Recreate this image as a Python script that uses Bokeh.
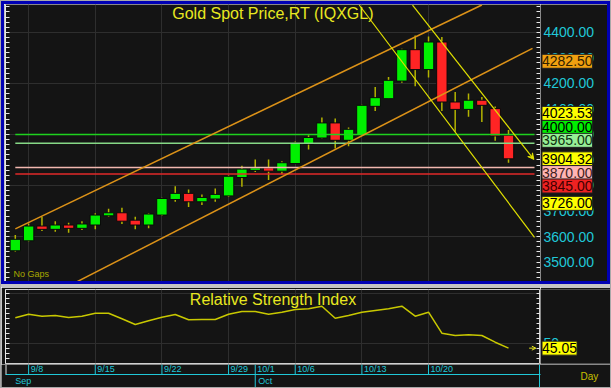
from bokeh.plotting import figure
from bokeh.layouts import column, row
from bokeh.models import (Range1d, LinearAxis, FixedTicker, Label, Arrow, VeeHead, OpenHead,
                          ColumnDataSource, Div)
from bokeh.core.properties import value
from bokeh.embed import file_html
from bokeh.resources import INLINE

# ---------------- data ----------------
dates = ["9/5", "9/8", "9/9", "9/10", "9/11", "9/12", "9/15", "9/16", "9/17", "9/18", "9/19",
         "9/22", "9/23", "9/24", "9/25", "9/26", "9/29", "9/30", "10/1", "10/2", "10/3",
         "10/6", "10/7", "10/8", "10/9", "10/10", "10/13", "10/14", "10/15", "10/16", "10/17",
         "10/20", "10/21", "10/22", "10/23", "10/24", "10/27", "10/28"]
opens = [3544, 3583, 3641, 3628, 3645, 3632, 3645, 3681, 3693, 3664, 3645,
         3684, 3745, 3769, 3736, 3747, 3759, 3831, 3859, 3869, 3856,
         3886, 3962, 3986, 4045, 3977, 3997, 4110, 4140, 4209, 4332,
         4254, 4362, 4127, 4098, 4134, 4101, 3997]
highs = [3606, 3651, 3677, 3660, 3654, 3660, 3691, 3709, 3713, 3677, 3691,
         3752, 3797, 3784, 3765, 3788, 3840, 3877, 3902, 3902, 3895,
         3972, 3997, 4066, 4062, 4027, 4116, 4186, 4225, 4336, 4388,
         4384, 4382, 4166, 4160, 4147, 4109, 4017]
lows = [3540, 3580, 3622, 3619, 3615, 3625, 3628, 3677, 3649, 3628, 3632,
        3680, 3736, 3716, 3723, 3736, 3755, 3795, 3853, 3821, 3844,
        3884, 3941, 3984, 3945, 3954, 3995, 4092, 4140, 4202, 4189,
        4223, 4092, 4010, 4069, 4049, 3975, 3889]
closes = [3589, 3641, 3628, 3645, 3632, 3649, 3684, 3693, 3660, 3645, 3688,
          3749, 3769, 3736, 3753, 3765, 3836, 3864, 3869, 3856, 3889,
          3967, 3988, 4045, 3977, 4020, 4114, 4144, 4212, 4332, 4254,
          4362, 4127, 4098, 4134, 4114, 3994, 3904.32]
rsi = [75.4, 79.0, 77.0, 77.7, 75.7, 77.0, 80.0, 80.0, 74.4, 68.7, 72.4,
       76.0, 78.7, 73.4, 73.7, 73.7, 79.0, 81.7, 81.7, 79.0, 81.0,
       83.7, 84.4, 87.0, 75.0, 77.7, 81.0, 82.7, 84.4, 87.0, 77.0,
       81.0, 60.0, 57.7, 58.4, 57.7, 51.0, 45.05]

date_tick_labels = ["9/8", "9/15", "9/22", "9/29", "10/1", "10/6", "10/13", "10/20"]
month_labels = ["Sep", "Oct"]
month_first_days = ["9/5", "10/1"]
week_starts = ["9/8", "9/15", "9/22", "9/29", "10/6", "10/13", "10/20"]

price_ticks = [3500, 3600, 3700, 3800, 3900, 4000, 4100, 4200, 4300, 4400]
price_grid = [3600, 3800, 4000, 4200, 4400]
rsi_ticks = [50]
rsi_grid = [50, 100]

levels = [4000.00, 3965.00, 3870.00, 3845.00]
level_colors = ["#1ED21E", "#86D886", "#F2B8B0", "#E02828"]

tag_values = [4282.50, 4023.53, 4000.00, 3965.00, 3904.32, 3870.00, 3845.00, 3726.00]
tag_fill = ["#F0A010", "#FFFF00", "#00EE00", "#96EE96", "#FFFF00", "#FFB4B4", "#EE2222", "#FFFF00"]
tag_text = ["#302000", "#000000", "#000000", "#103010", "#000000", "#402020", "#400000", "#000000"]
tag_shift = [1, 15, 7, 3, 0, -5, -12, 1]

channel_upper_x = [0.0, 35.0]
channel_upper_y = [3630, 4507]
channel_lower_x = [4.6, 38.8]
channel_lower_y = [3422, 4337]
trend_a_x = [25.8, 38.95]
trend_a_y = [4507, 3597]
trend_b_x = [29.8, 38.9]
trend_b_y = [4507, 3902]

rsi_last = 45.05

# ---------------- style ----------------
FONT = "Liberation Sans"
BG = "#141414"
GRID = "#2E2E2E"
CYAN = "#20C8D8"
WHITE = "#E6E6E6"
YEL = "#E8E820"
BLUE = "#0000B4"
SEP = "#C4C4C4"
OUTER = "#A8A8A8"
ORANGE = "#DC9218"

idx = list(range(len(dates)))
pos = {d: i for i, d in enumerate(dates)}
tick_idx = [pos[d] for d in date_tick_labels]
grid_idx = [pos[d] for d in week_starts]
month_idx = [pos[d] for d in month_first_days]

FRAME_W = 535
xr = Range1d(-0.735, 39.40)
PX = FRAME_W / (xr.end - xr.start)      # pixels per trading day
XMID = (xr.start + xr.end) / 2


def bar(w, h, color):
    return Div(text="", width=w, height=h, margin=0,
               styles={"background-color": color, "padding": "0px"})


def tick_axis(ax, minor):
    ax.ticker = FixedTicker(ticks=[], minor_ticks=minor)
    ax.axis_line_color = WHITE
    ax.minor_tick_line_color = WHITE
    ax.minor_tick_in = 4
    ax.minor_tick_out = 0
    ax.major_tick_in = 0
    ax.major_tick_out = 0


def base_fig(w, h, x_range, y_range, **kw):
    f = figure(width=w, height=h, x_range=x_range, y_range=y_range,
               output_backend="svg", toolbar_location=None,
               background_fill_color=BG, border_fill_color=BG, **kw)
    return f


# ---------------- main price panel ----------------
yr = Range1d(3423.7, 4509)
p = base_fig(536, 277, xr, yr, x_axis_location=None, y_axis_location="right",
             min_border_left=1, min_border_right=0, min_border_top=0, min_border_bottom=0,
             outline_line_color=None)
minor_p = list(range(3440, 4510, 20))
tick_axis(p.yaxis[0], minor_p)
la = LinearAxis()
tick_axis(la, minor_p)
p.add_layout(la, "left")
p.ygrid.ticker = FixedTicker(ticks=price_grid)
p.ygrid.grid_line_color = GRID
p.xgrid.ticker = FixedTicker(ticks=grid_idx)
p.xgrid.grid_line_color = GRID

colors = ["#00F000" if c >= o else "#FF2424" for o, c in zip(opens, closes)]
src = ColumnDataSource(dict(
    x=idx, high=highs, low=lows,
    top=[max(o, c) for o, c in zip(opens, closes)],
    bottom=[min(o, c) for o, c in zip(opens, closes)],
    color=colors))
p.segment(x0="x", y0="low", x1="x", y1="high", source=src, line_color="#B4B400", line_width=1.5)
p.vbar(x="x", width=0.78, top="top", bottom="bottom", source=src,
       fill_color="color", line_color="#0A0A0A", line_width=1)

for lv, lc in zip(levels, level_colors):
    p.line([0, 38.95], [lv, lv], line_color=lc, line_width=1.5)

p.line(channel_upper_x, channel_upper_y, line_color=ORANGE, line_width=1.5)
p.line(channel_lower_x, channel_lower_y, line_color=ORANGE, line_width=1.5)
p.line(trend_a_x, trend_a_y, line_color="#E0E000", line_width=1.2)
p.add_layout(Arrow(end=VeeHead(size=6, line_color="#E0E000", fill_color="#E0E000"),
                   x_start=trend_b_x[0], y_start=trend_b_y[0],
                   x_end=trend_b_x[1], y_end=trend_b_y[1],
                   line_color="#E0E000", line_width=1.2))

p.add_layout(Label(x=XMID, y=yr.end, text="Gold Spot Price,RT (IQXGL)", text_align="center",
                   text_baseline="top", text_font=FONT, text_font_size="16px",
                   text_color=YEL))
p.add_layout(Label(x=xr.start, y=yr.start, text="No Gaps", x_offset=8, y_offset=3,
                   text_font=FONT, text_font_size="9px", text_color="#A8A800",
                   text_baseline="bottom"))

# price scale column (right of the plot)
s1 = base_fig(67, 277, Range1d(0, 67), yr, x_axis_location=None, y_axis_location=None,
              min_border=0, outline_line_color=None)
s1.grid.visible = False
s1.text(x=[3] * len(price_ticks), y=price_ticks, text=[f"{v:.2f}" for v in price_ticks],
        text_baseline="middle", text_align="left", text_font=value(FONT),
        text_font_size="14px", text_color=CYAN)
for v, f, t, s in zip(tag_values, tag_fill, tag_text, tag_shift):
    s1.add_layout(Label(x=1.5, y=v, y_offset=s, text=f"{v:.2f}",
                        text_baseline="middle", text_align="left",
                        text_font=FONT, text_font_size="14px", text_color=t,
                        background_fill_color=f, border_line_color="#202020",
                        padding=(0, 2)))

# ---------------- RSI panel ----------------
ry = Range1d(29.7, 103.7)
r = base_fig(539, 77, xr, ry, x_axis_location=None, y_axis_location="right",
             min_border_left=4, min_border_right=0, min_border_top=2, min_border_bottom=1,
             outline_line_color="#D0D0D0")
minor_r = list(range(35, 104, 5))
tick_axis(r.yaxis[0], minor_r)
rla = LinearAxis()
tick_axis(rla, minor_r)
r.add_layout(rla, "left")
r.ygrid.ticker = FixedTicker(ticks=rsi_grid)
r.ygrid.grid_line_color = GRID
r.xgrid.ticker = FixedTicker(ticks=grid_idx)
r.xgrid.grid_line_color = GRID

r.line(idx, rsi, line_color="#C8C800", line_width=1.5)
r.add_layout(Label(x=XMID, y=ry.end, text="Relative Strength Index", text_align="center",
                   text_baseline="top", text_font=FONT, text_font_size="16px",
                   text_color=YEL, y_offset=-1))
r.add_layout(Arrow(end=OpenHead(size=4, line_color=YEL, line_width=1),
                   x_start=38.55, y_start=rsi_last, x_end=39.05, y_end=rsi_last,
                   line_color=YEL, line_width=1))

s2 = base_fig(70, 77, Range1d(0, 70), ry, x_axis_location=None, y_axis_location=None,
              min_border_left=0, min_border_right=0, min_border_top=2, min_border_bottom=1,
              outline_line_color=None)
s2.grid.visible = False
s2.text(x=[3] * len(rsi_ticks), y=rsi_ticks, text=[f"{v:.0f}" for v in rsi_ticks],
        text_baseline="middle", text_align="left", text_font=value(FONT),
        text_font_size="14px", text_color=CYAN)
s2.add_layout(Label(x=1.5, y=rsi_last, text=f"{rsi_last:.2f}",
                    text_baseline="middle", text_font=FONT, text_font_size="14px",
                    text_color="#000000", background_fill_color="#FFFF00",
                    border_line_color="#202020", padding=(0, 2)))

# ---------------- date strip ----------------
dxr = Range1d(xr.start - 4 / PX, xr.start + 605 / PX)
d = base_fig(609, 23, dxr, Range1d(0, 23), x_axis_location=None, y_axis_location=None,
             min_border=0, outline_line_color=None)
d.grid.visible = False
n = len(tick_idx)
d.segment(x0=tick_idx, y0=[13] * n, x1=tick_idx, y1=[23] * n, line_color=CYAN, line_width=1)
d.text(x=tick_idx, y=[18.5] * n, text=date_tick_labels, x_offset=2,
       text_baseline="middle", text_font=value(FONT), text_font_size="9px", text_color=CYAN)
d.segment(x0=[xr.start], y0=[13], x1=[xr.end], y1=[13], line_color=CYAN, line_width=1)
d.segment(x0=[month_idx[1]], y0=[0], x1=[month_idx[1]], y1=[13], line_color=CYAN, line_width=1)
d.segment(x0=[xr.start + 0.5 / PX], y0=[13], x1=[xr.start + 0.5 / PX], y1=[23],
          line_color=WHITE, line_width=1)
d.segment(x0=[xr.end - 1 / PX], y0=[0], x1=[xr.end - 1 / PX], y1=[23], line_color=CYAN, line_width=1)
d.text(x=[month_idx[0]], y=[7], text=[month_labels[0]], text_baseline="middle",
       text_font=value(FONT), text_font_size="9px", text_color=CYAN)
d.text(x=[month_idx[1]], y=[7], text=[month_labels[1]], x_offset=3, text_baseline="middle",
       text_font=value(FONT), text_font_size="9px", text_color=CYAN)
d.text(x=[xr.start + 575 / PX], y=[11], text=["Day"], text_baseline="middle",
       text_font=value(FONT), text_font_size="10px", text_color="#C8C000")

# ---------------- layout ----------------
top_panel = row(bar(3, 283, BLUE),
                column(bar(603, 3, BLUE), row(p, s1, spacing=0), bar(603, 3, BLUE), spacing=0),
                bar(3, 283, BLUE), spacing=0)
inner = column(top_panel, bar(609, 3, SEP), row(r, s2, spacing=0), d, spacing=0)
layout = row(bar(1, 388, OUTER),
             column(bar(609, 1, OUTER), inner, bar(609, 1, OUTER), spacing=0),
             bar(1, 388, OUTER), spacing=0)

open("out.html", "w").write(file_html(layout, INLINE))
